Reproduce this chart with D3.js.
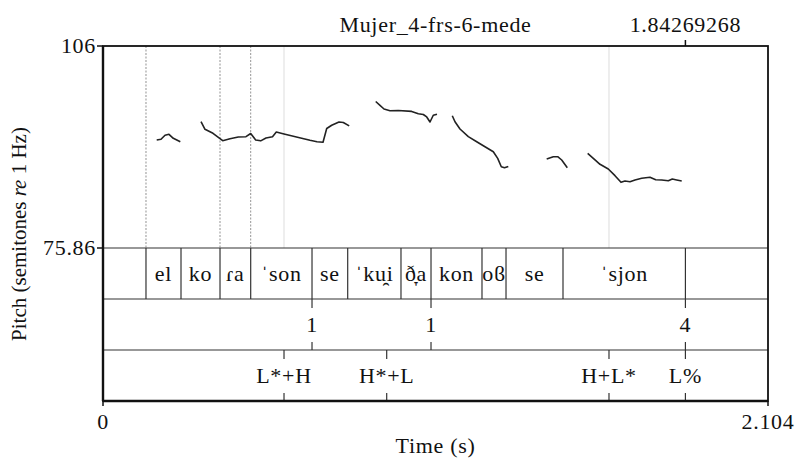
<!DOCTYPE html>
<html>
<head>
<meta charset="utf-8">
<script src="https://cdn.jsdelivr.net/npm/d3@7"></script>
<style>
  body { margin: 0; background: #fff; }
  text { font-family: "Liberation Serif", "Times New Roman", serif; fill: #111; }
  text.h { letter-spacing: 0.7px; }
</style>
</head>
<body>
<div id="chart"></div>
<script>
// pitch contour, [time (s), semitones re 1 Hz], one array per voiced stretch
const seg1 = [[0.1699,91.97],[0.1835,92.08],[0.1962,92.68],[0.2088,92.82],[0.2224,92.23],[0.2446,91.72]];
const seg2 = [[0.3101,94.70],[0.3227,93.57],[0.3480,92.97],[0.3787,91.87],[0.4018,92.17],[0.4281,92.42],
  [0.4524,92.47],[0.4673,92.94],[0.4831,91.97],[0.4989,91.85],[0.5157,92.27],[0.5363,92.47],[0.5483,93.17],
  [0.5727,92.87],[0.6154,92.38],[0.6549,91.93],[0.6771,91.71],[0.6961,91.65],[0.7078,93.69],[0.7236,94.18],
  [0.7467,94.66],[0.7603,94.59],[0.7790,94.09]];
const seg3 = [[0.8628,97.72],[0.8764,97.15],[0.8891,96.60],[0.9080,96.35],[0.9343,96.38],[0.9767,96.24],
  [0.9976,95.88],[1.0134,95.78],[1.0242,95.41],[1.0346,94.66],[1.0450,95.67],[1.0567,95.81]];
const seg4 = [[1.1051,95.59],[1.1137,94.70],[1.1295,93.62],[1.1558,92.47],[1.1824,91.72],[1.2086,90.97],
  [1.2349,90.23],[1.2488,89.24],[1.2602,87.99],[1.2703,87.84],[1.2823,88.02]];
const seg5 = [[1.4038,89.14],[1.4247,89.48],[1.4386,89.48],[1.4513,88.99],[1.4690,87.84]];
const seg6 = [[1.5335,89.99],[1.5513,89.24],[1.5725,88.35],[1.5987,87.65],[1.6199,86.65],[1.6389,85.66],
  [1.6515,85.86],[1.6674,85.75],[1.6832,86.01],[1.7044,86.26],[1.7306,86.41],[1.7487,86.05],[1.7677,86.01],
  [1.7886,85.90],[1.8012,86.15],[1.8151,86.01],[1.8310,85.86]];
const contour = [seg1, seg2, seg3, seg4, seg5, seg6];

// tier 1: syllables (interval tier)
const syllableBounds = [0, 0.1360, 0.2468, 0.3702, 0.4673, 0.6613, 0.7742, 0.9428, 1.0378, 1.1991, 1.2751, 1.4554, 1.8427, 2.104];
const syllables = ["", "el", "ko", "ɾa", "ˈson", "se", "ˈku̯i", "ð̞a", "kon", "oϐ", "se", "ˈsjon", ""];
// tier 2: break indices (point tier)
const breakTimes = [0.6613, 1.0378, 1.8427];
const breakLabels = ["1", "1", "4"];
// tier 3: tones (point tier)
const toneTimes = [0.5727, 0.8976, 1.6009, 1.8427];
const toneLabels = ["L*+H", "H*+L", "H+L*", "L%"];
// vertical guide lines in the pitch area
const dottedTimes = [0.1360, 0.3702, 0.4673];
const lightTimes = [0.5727, 1.6009];

const tMin = 0, tMax = 2.104;
const stMin = 75.86, stMax = 106;
const cursorTime = 1.84269268;
const fileName = "Mujer_4-frs-6-mede";

const width = 797, height = 459;
const mLeft = 103, mRight = 768, mTop = 46, pitchBottom = 248, tierH = 51;
const mBottom = pitchBottom + tierH * 3;
const fs = 22;

const svg = d3.select("#chart").append("svg")
  .attr("width", width)
  .attr("height", height);

const x = d3.scaleLinear().domain([tMin, tMax]).range([mLeft, mRight]);
const y = d3.scaleLinear().domain([stMin, stMax]).range([pitchBottom, mTop]);

// guide lines
svg.selectAll("line.dot")
  .data(dottedTimes)
  .join("line")
  .attr("x1", d => x(d)).attr("x2", d => x(d))
  .attr("y1", mTop).attr("y2", pitchBottom)
  .attr("stroke", "#777").attr("stroke-width", 0.8)
  .attr("stroke-dasharray", "2,1.5");

svg.selectAll("line.light")
  .data(lightTimes)
  .join("line")
  .attr("x1", d => x(d)).attr("x2", d => x(d))
  .attr("y1", mTop).attr("y2", pitchBottom)
  .attr("stroke", "#ddd").attr("stroke-width", 1);

// pitch contour
const line = d3.line().x(d => x(d[0])).y(d => y(d[1]));
svg.selectAll("path.f0")
  .data(contour)
  .join("path")
  .attr("d", line)
  .attr("fill", "none")
  .attr("stroke", "#222")
  .attr("stroke-width", 1.6)
  .attr("stroke-linejoin", "round");

// tier rows
const tierTop = i => pitchBottom + tierH * i;

[0, 1, 2].forEach(i => {
  svg.append("line")
    .attr("x1", mLeft).attr("x2", mRight)
    .attr("y1", tierTop(i)).attr("y2", tierTop(i))
    .attr("stroke", "#333").attr("stroke-width", 1.2);
});

// syllable boundaries + labels
svg.selectAll("line.bound")
  .data(syllableBounds.slice(1, -1))
  .join("line")
  .attr("x1", d => x(d)).attr("x2", d => x(d))
  .attr("y1", tierTop(0)).attr("y2", tierTop(1))
  .attr("stroke", "#333").attr("stroke-width", 1.2);

svg.selectAll("text.syl")
  .data(syllables)
  .join("text")
  .attr("class", "h")
  .attr("x", (d, i) => (x(syllableBounds[i]) + x(syllableBounds[i + 1])) / 2)
  .attr("y", tierTop(0) + tierH / 2)
  .attr("dy", "0.32em")
  .attr("text-anchor", "middle")
  .attr("font-size", fs)
  .text(d => d);

// point tiers: short ticks at top and bottom, label centred
function pointTier(times, labels, row) {
  const y0 = tierTop(row), y1 = tierTop(row + 1);
  const g = svg.append("g");
  g.selectAll("line.tt")
    .data(times)
    .join("line")
    .attr("x1", d => x(d)).attr("x2", d => x(d))
    .attr("y1", y0).attr("y2", y0 + 9)
    .attr("stroke", "#333").attr("stroke-width", 1.2);
  g.selectAll("line.tb")
    .data(times)
    .join("line")
    .attr("x1", d => x(d)).attr("x2", d => x(d))
    .attr("y1", y1 - 8).attr("y2", y1)
    .attr("stroke", "#333").attr("stroke-width", 1.2);
  g.selectAll("text")
    .data(labels)
    .join("text")
    .attr("class", "h")
    .attr("x", (d, i) => x(times[i]))
    .attr("y", (y0 + y1) / 2)
    .attr("dy", "0.32em")
    .attr("text-anchor", "middle")
    .attr("font-size", fs)
    .text(d => d);
}
pointTier(breakTimes, breakLabels, 1);
pointTier(toneTimes, toneLabels, 2);

// frame
svg.append("rect")
  .attr("x", mLeft).attr("y", mTop)
  .attr("width", mRight - mLeft).attr("height", mBottom - mTop)
  .attr("fill", "none").attr("stroke", "#111").attr("stroke-width", 1.8);
svg.append("line")
  .attr("x1", mLeft).attr("x2", mLeft).attr("y1", mTop).attr("y2", mBottom)
  .attr("stroke", "#111").attr("stroke-width", 2.4);
svg.append("line")
  .attr("x1", mLeft).attr("x2", mRight).attr("y1", mBottom).attr("y2", mBottom)
  .attr("stroke", "#111").attr("stroke-width", 2.4);

// left y labels
[stMax, stMin].forEach(v => {
  svg.append("line")
    .attr("x1", mLeft - 6).attr("x2", mLeft).attr("y1", y(v)).attr("y2", y(v))
    .attr("stroke", "#111").attr("stroke-width", 1.5);
  svg.append("text")
    .attr("class", "h")
    .attr("x", mLeft - 7).attr("y", y(v))
    .attr("dy", "0.3em")
    .attr("text-anchor", "end")
    .attr("font-size", fs)
    .text(v === stMax ? "106" : "75.86");
});

// bottom x labels
[tMin, tMax].forEach(v => {
  svg.append("line")
    .attr("x1", x(v)).attr("x2", x(v)).attr("y1", mBottom).attr("y2", mBottom + 5)
    .attr("stroke", "#111").attr("stroke-width", 1.5);
  svg.append("text")
    .attr("class", "h")
    .attr("x", x(v)).attr("y", mBottom + 28)
    .attr("text-anchor", "middle")
    .attr("font-size", fs)
    .text(v === tMin ? "0" : "2.104");
});

svg.append("text")
  .attr("class", "h")
  .attr("x", (mLeft + mRight) / 2).attr("y", mBottom + 52)
  .attr("text-anchor", "middle")
  .attr("font-size", fs)
  .text("Time (s)");

const yl = svg.append("text")
  .attr("transform", `translate(26,234) rotate(-90)`)
  .attr("text-anchor", "middle")
  .attr("font-size", 21);
yl.append("tspan").text("Pitch (semitones ");
yl.append("tspan").attr("font-style", "italic").text("re");
yl.append("tspan").text(" 1 Hz)");

// top: file name and cursor time
svg.append("text")
  .attr("class", "h")
  .attr("x", (mLeft + mRight) / 2).attr("y", mTop - 14)
  .attr("text-anchor", "middle")
  .attr("font-size", fs)
  .text(fileName);
svg.append("line")
  .attr("x1", x(cursorTime)).attr("x2", x(cursorTime))
  .attr("y1", mTop - 6).attr("y2", mTop)
  .attr("stroke", "#111").attr("stroke-width", 1.5);
svg.append("text")
  .attr("class", "h")
  .attr("x", x(cursorTime)).attr("y", mTop - 14)
  .attr("text-anchor", "middle")
  .attr("font-size", fs)
  .text(d3.format(".8f")(cursorTime));
</script>
</body>
</html>
